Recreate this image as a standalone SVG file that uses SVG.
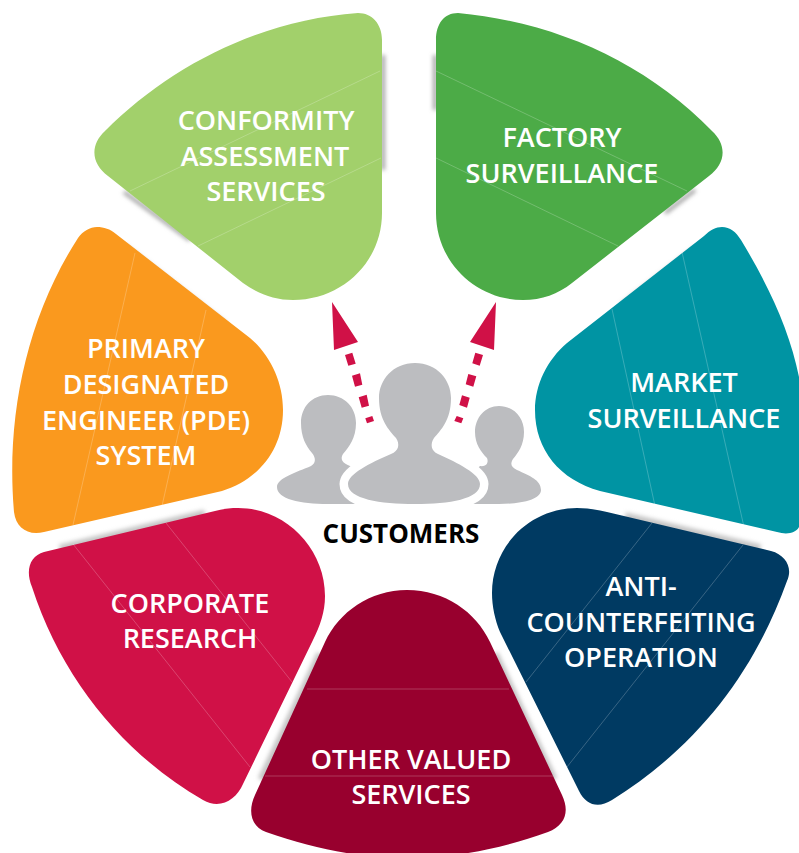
<svg xmlns="http://www.w3.org/2000/svg" width="799" height="853" viewBox="0 0 799 853">
<style>
.t{font-family:"Open Sans","Noto Sans","Liberation Sans",sans-serif;font-weight:600;font-size:27px;fill:#fff;text-anchor:middle}
.k{fill:#000;font-size:26px;font-weight:700}
.f{stroke:#fff;stroke-opacity:.28;stroke-width:.8;fill:none}
.p{fill:#bcbdc0}
.a{fill:#d01147}
.s{stroke:#a0a0a0;stroke-width:4;fill:none}
.b{stroke:#c4c4c4;stroke-width:9;fill:none}
</style>
<defs><filter id="blur" x="-20%" y="-20%" width="140%" height="140%"><feGaussianBlur stdDeviation="2.200"/></filter></defs>
<rect width="799" height="853" fill="#fff"/>
<g id="shadows" filter="url(#blur)">
<path class="s" d="M383 55V170M124 192L190 240M435 55V110M695 190L665 213M696 248L622 305M124 246L225 324"/>
<path class="b" d="M625 517L760 549M60 549L205 514M321 654L262 780M494 654L553 780"/>
</g>
<g id="conformity">
<path fill="#a2d06b" d="M358 13C372 13 382 24 382 40V213C382 262 342 300 293 300C275 300 258 294 243 283L108 176C92 164 89 146 105 131C170 66 260 20 358 13Z"/>
<path class="f" d="M380 71L130 191M381 158L198 246"/>
<text class="t" x="266" y="130">CONFORMITY</text><text class="t" x="265" y="166">ASSESSMENT</text><text class="t" x="266" y="201">SERVICES</text>
</g>
<g id="factory">
<path fill="#4cab47" d="M458 13C444 13 436 24 436 40V213C436 262 476 300 523 300C542 300 558 294 572 283L709 176C725 164 728 146 712 131C645 62 555 22 458 13Z"/>
<path class="f" d="M436 71L687 191M436 158L618 246"/>
<text class="t" x="562" y="147">FACTORY</text><text class="t" x="562" y="183">SURVEILLANCE</text>
</g>
<g id="market">
<path fill="#0094a3" d="M722 227C730 227 736 232 741 240C770 288 790 332 799 377V527C796 533 787 535 777 532L600 491C560 480 535 450 535 410C535 385 547 360 567 343L704 236C710 230 716 227 722 227Z"/>
<path class="f" d="M682 252L744 527M612 309L655 506"/>
<text class="t" x="684" y="392">MARKET</text><text class="t" x="684" y="428">SURVEILLANCE</text>
</g>
<g id="anti">
<path fill="#003a62" d="M577 508C588 508 598 510 607 512L771 551C786 555 793 568 787 581C755 670 700 745 612 800C598 809 586 805 579 791L500 632C495 620 492 606 492 593C492 546 530 508 577 508Z"/>
<path class="f" d="M652 523L526 682M743 545L567 767"/>
<text class="t" x="641" y="596">ANTI-</text><text class="t" x="641" y="632">COUNTERFEITING</text><text class="t" x="641" y="667">OPERATION</text>
</g>
<g id="other">
<path fill="#98002e" d="M407 590C445 590 476 612 490 642L562 795C570 812 565 825 548 832C500 849 455 858 407 858C360 858 315 849 266 832C250 826 248 810 255 795L325 642C339 612 370 590 407 590Z"/>
<path class="f" d="M307 689H509M265 776H553"/>
<text class="t" x="411" y="769">OTHER VALUED</text><text class="t" x="411" y="804">SERVICES</text>
</g>
<g id="corporate">
<path fill="#d01147" d="M238 508C285 508 325 548 325 596C325 612 320 626 313 640L243 784C236 800 220 810 203 800C125 755 62 680 32 587C25 570 30 556 44 552L215 511C222 509 230 508 238 508Z"/>
<path class="f" d="M73 544L250 767M166 523L292 682"/>
<text class="t" x="190" y="613">CORPORATE</text><text class="t" x="190" y="648">RESEARCH</text>
</g>
<g id="primary">
<path fill="#fa991e" d="M97 227C104 227 110 229 116 234L250 338C270 355 283 382 283 410C283 450 258 480 222 491L44 532C28 536 16 528 14 512C6 420 25 320 78 238C83 231 90 227 97 227Z"/>
<path class="f" d="M135 253L73 525M206 310L162 506"/>
<text class="t" x="146" y="358">PRIMARY</text><text class="t" x="146" y="394">DESIGNATED</text><text class="t" x="146" y="430">ENGINEER (PDE)</text><text class="t" x="146" y="465">SYSTEM</text>
</g>
<g id="customers">
<path class="p" d="M328 395C344 395 356 407 356 423C356 438 349 447 343 454C340 459 342 463 350 466L400 504H328C300 504 277 499 277 487C277 478 297 472 311 466C316 463 316 458 312 453C306 446 301 437 301 423C301 407 312 395 328 395Z"/>
<path class="p" d="M499 406C514 406 524 418 524 432C524 445 518 453 513 459C510 464 511 467 517 470C530 476 541 480 541 490C541 500 520 504 499 504H440L480 466C486 467 489 463 487 458C481 452 475 444 475 432C475 418 485 406 499 406Z"/>
<path class="p" stroke="#fff" stroke-width="17" stroke-linejoin="round" paint-order="stroke" d="M415 363C437 363 451 380 451 398C451 420 441 430 434 438C430 444 431 451 438 454C458 463 480 474 480 484C480 499 450 504 415 504C380 504 348 499 348 484C348 474 370 463 391 454C399 451 400 444 396 438C389 430 379 420 379 398C379 380 393 363 415 363Z"/>
<text class="t k" x="401" y="543">CUSTOMERS</text>
</g>
<g id="connectors">
<path class="a" d="M332 302L358 342L334 350ZM345 355L352.300 352.700L355.700 363.700L348.300 365.700ZM352 375.700L360 373.300L362.300 384.700L355 386.700ZM358.700 397.300L366.700 394.700L369 405.700L361.700 407.700ZM365.300 418.300L372.300 416L374 421L367 423.300Z"/>
<path class="a" d="M496 302L470 342L494 350ZM475.300 352.700L483 355L479.700 365.700L472.300 363.300ZM468.300 374L476.300 376.300L473.300 386.700L465.700 384.300ZM462 395.300L469.700 397.700L467 407.700L459.300 405ZM456.700 416L463.300 418.300L461.300 423.300L454.300 421Z"/>
</g>
</svg>
